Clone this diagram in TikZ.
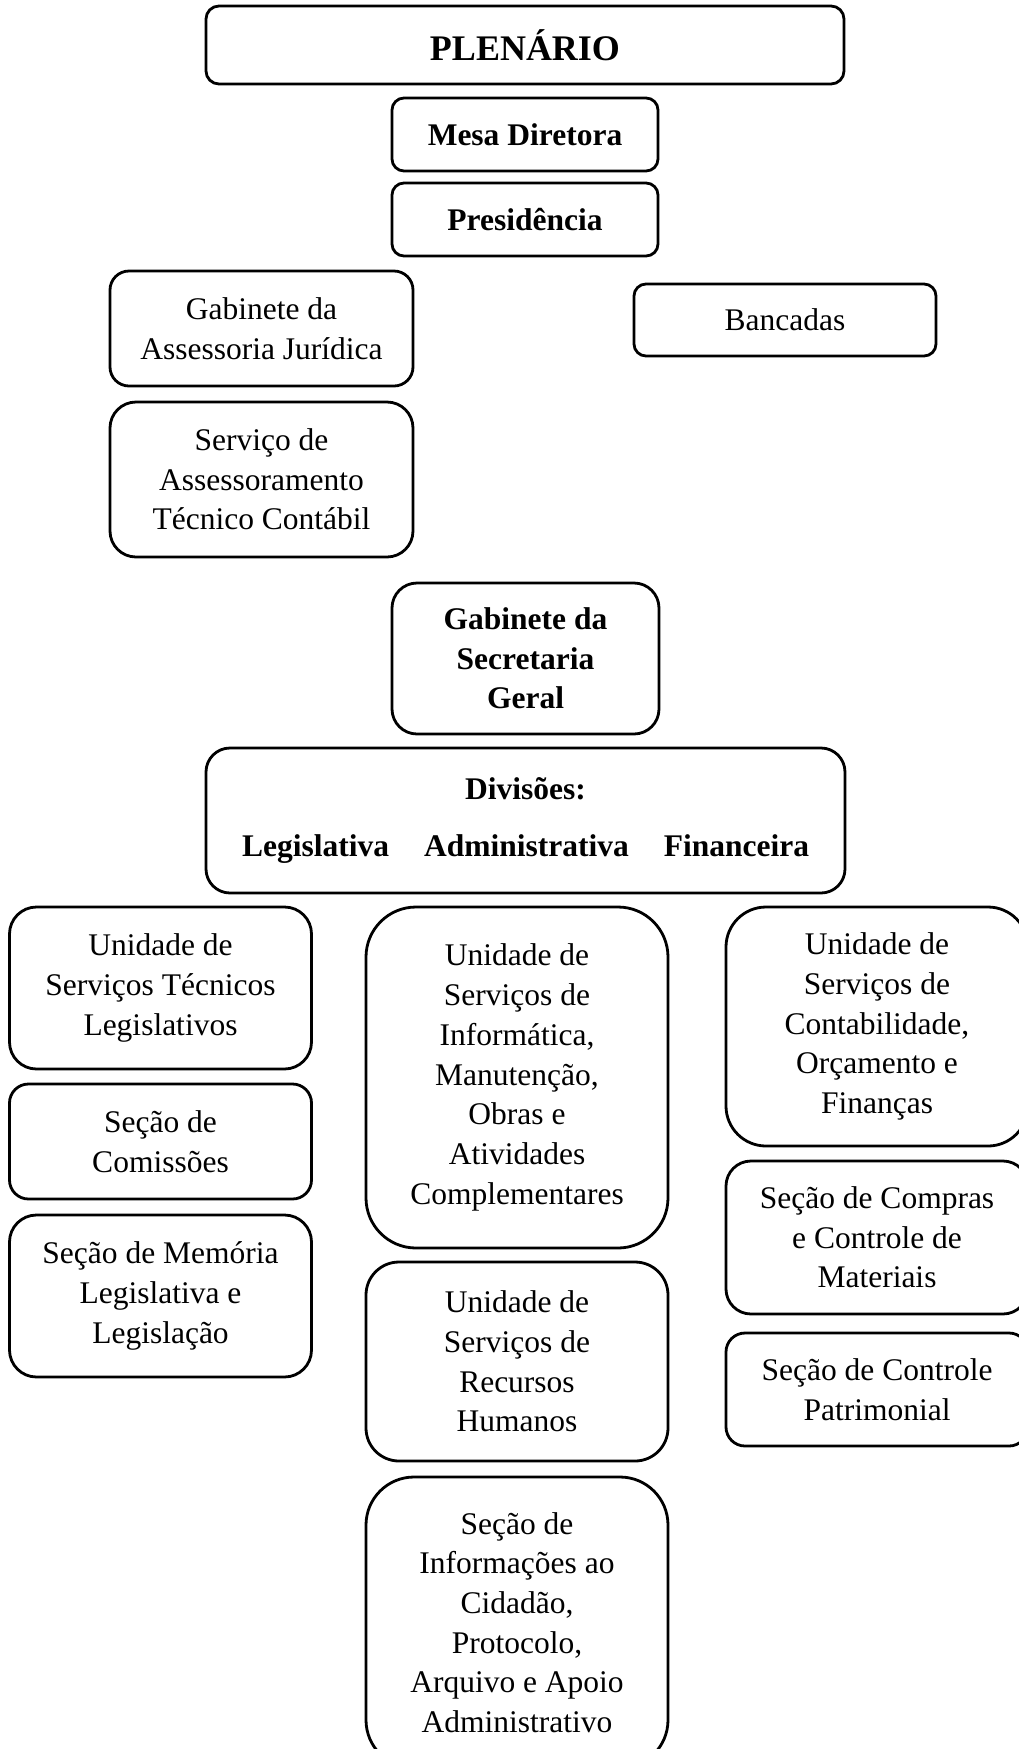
\documentclass[tikz,border=0pt]{standalone}
\usepackage{fontspec}
\setmainfont{Liberation Serif}
\begin{document}
\begin{tikzpicture}[x=1pt,y=-1pt,
  box/.style={draw=black, line width=2.8pt, inner sep=0pt, align=center,
    font=\fontsize{31.5}{39.7}\selectfont},
  boldbox/.style={box, font=\fontsize{31.5}{39.7}\selectfont\bfseries}]
\useasboundingbox (0,0) rectangle (1019,1749);
\clip (0,0) rectangle (1019,1749);
\fill[white] (0,0) rectangle (1019,1749);
% top
\node[box, font=\fontsize{36}{44}\selectfont\bfseries, minimum width=638pt, minimum height=78pt, rounded corners=13pt] (plen) at (525,45) {PLENÁRIO};
\node[boldbox, minimum width=266pt, minimum height=73pt, rounded corners=12pt] (mesa) at (525,134.5) {Mesa Diretora};
\node[boldbox, minimum width=266pt, minimum height=73pt, rounded corners=12pt] (pres) at (525,219.5) {Presidência};
\node[box, minimum width=303pt, minimum height=115pt, rounded corners=19pt] (gaj) at (261.5,328.5) {Gabinete da\\Assessoria Jurídica};
\node[box, minimum width=302pt, minimum height=72pt, rounded corners=12pt] (banc) at (785,320) {Bancadas};
\node[box, minimum width=303pt, minimum height=155pt, rounded corners=26pt] (sat) at (261.5,479.5) {Serviço de\\Assessoramento\\Técnico Contábil};
\node[boldbox, minimum width=267pt, minimum height=151pt, rounded corners=25pt] (gsg) at (525.5,658.5) {Gabinete da\\Secretaria\\Geral};
\node[boldbox, minimum width=639pt, minimum height=145pt, rounded corners=24pt] (div) at (525.5,820.5) {Divisões:\\[17pt]Legislativa\hspace*{35pt}Administrativa\hspace*{35pt}Financeira};
% left column
\node[box, minimum width=302pt, minimum height=162pt, rounded corners=27pt] (ustl) at (160.5,988) {Unidade de\\Serviços Técnicos\\Legislativos};
\node[box, minimum width=302pt, minimum height=115pt, rounded corners=19pt] (com) at (160.5,1141.5) {Seção de\\Comissões};
\node[box, minimum width=302pt, minimum height=162pt, rounded corners=27pt] (mem) at (160.5,1296) {Seção de Memória\\Legislativa e\\Legislação};
% middle column
\node[box, minimum width=302pt, minimum height=341pt, rounded corners=50pt] (inf) at (517,1077.5) {Unidade de\\Serviços de\\Informática,\\Manutenção,\\Obras e\\Atividades\\Complementares};
\node[box, minimum width=302pt, minimum height=199pt, rounded corners=33pt] (rh) at (517,1361.5) {Unidade de\\Serviços de\\Recursos\\Humanos};
\node[box, minimum width=302pt, minimum height=291pt, rounded corners=48pt] (sic) at (517,1622.5) {Seção de\\Informações ao\\Cidadão,\\Protocolo,\\Arquivo e Apoio\\Administrativo};
% right column
\node[box, minimum width=302pt, minimum height=239pt, rounded corners=40pt] (cont) at (877,1026.5) {Unidade de\\Serviços de\\Contabilidade,\\Orçamento e\\Finanças};
\node[box, minimum width=302pt, minimum height=153pt, rounded corners=25pt] (comp) at (877,1237.5) {Seção de Compras\\e Controle de\\Materiais};
\node[box, minimum width=302pt, minimum height=113pt, rounded corners=19pt] (pat) at (877,1389.5) {Seção de Controle\\Patrimonial};
\end{tikzpicture}
\end{document}
